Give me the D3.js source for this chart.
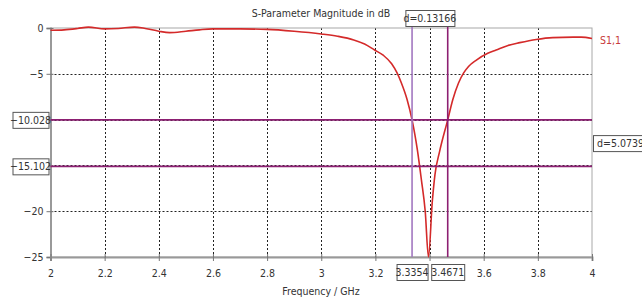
<!DOCTYPE html>
<html>
<head>
<meta charset="utf-8">
<script src="https://cdn.jsdelivr.net/npm/d3@7"></script>
<style>
  body { margin: 0; background: #fff; }
  svg text { font-family: "DejaVu Sans Condensed", "DejaVu Sans", sans-serif; font-stretch: condensed; font-size: 10.5px; fill: #333; }
</style>
</head>
<body>
<svg id="chart"></svg>
<script>
// S1,1 magnitude
const freqGHz = [2.00, 2.05, 2.10, 2.14, 2.20, 2.25, 2.31, 2.35, 2.40, 2.44, 2.50, 2.55, 2.60, 2.70, 2.80, 2.90,
  3.00, 3.06, 3.12, 3.16, 3.197, 3.23, 3.26, 3.28, 3.296, 3.317, 3.3354, 3.345, 3.355, 3.37, 3.384, 3.396,
  3.41, 3.42, 3.437, 3.4671, 3.486, 3.507, 3.526, 3.544, 3.573, 3.615, 3.646, 3.69, 3.733, 3.794, 3.855, 3.93, 3.96, 4.00];
const s11dB = [-0.25, -0.2, -0.05, 0.1, -0.1, -0.05, 0.1, -0.05, -0.35, -0.5, -0.35, -0.2, -0.1, -0.1, -0.15, -0.35,
  -0.65, -0.9, -1.3, -1.75, -2.4, -3.0, -3.9, -4.9, -6.0, -7.8, -10.028, -11.5, -13.3, -16.6, -20, -25,
  -19, -16, -13.5, -10.028, -7.8, -6.0, -4.9, -4.2, -3.5, -2.76, -2.4, -1.9, -1.6, -1.25, -1.05, -1.0, -1.0, -1.15];

const xTicks = [2, 2.2, 2.4, 2.6, 2.8, 3, 3.2, 3.4, 3.6, 3.8, 4];
const yTicks = [0, -5, -10, -15, -20, -25];
const markerFreqs = [3.3354, 3.4671];
const markerLevels = [-10.028, -15.102];
const deltaFreqLabel = "d=0.13166";
const deltaLevelLabel = "d=5.0739";

const width = 642, height = 300;
const plotLeft = 50.5, plotRight = 592, plotTop = 28, plotBottom = 257;

const svg = d3.select("#chart").attr("width", width).attr("height", height);

const x = d3.scaleLinear().domain([2, 4]).range([plotLeft, plotRight]);
const y = d3.scaleLinear().domain([-25, 0]).range([plotBottom, plotTop]);

// tick labels that sit under a marker box are not shown in the reference
const hiddenX = [3.4], hiddenY = [-10, -15];

// title
svg.append("text")
  .attr("x", 321).attr("y", 13)
  .attr("text-anchor", "middle")
  .attr("dominant-baseline", "central")
  .text("S-Parameter Magnitude in dB");

// grid (dotted)
const grid = svg.append("g").attr("stroke", "#222").attr("stroke-width", 1).attr("stroke-dasharray", "2,2");
grid.selectAll("line.v")
  .data(xTicks.slice(1, -1))
  .enter().append("line")
    .attr("x1", d => Math.round(x(d)) + 0.5).attr("x2", d => Math.round(x(d)) + 0.5)
    .attr("y1", plotTop).attr("y2", plotBottom);
grid.selectAll("line.h")
  .data(yTicks.slice(1, -1))
  .enter().append("line")
    .attr("x1", plotLeft).attr("x2", plotRight)
    .attr("y1", d => Math.round(y(d)) + 0.5).attr("y2", d => Math.round(y(d)) + 0.5);

// frame
svg.append("rect")
  .attr("x", plotLeft).attr("y", plotTop)
  .attr("width", plotRight - plotLeft).attr("height", plotBottom - plotTop)
  .attr("fill", "none").attr("stroke", "#a8a8a8").attr("stroke-width", 1);

// axes
const yAxis = svg.append("g")
  .attr("transform", "translate(" + plotLeft + ",0)")
  .call(d3.axisLeft(y).tickValues(yTicks).tickSize(4).tickPadding(3)
    .tickFormat(d => hiddenY.includes(d) ? "" : d3.format("d")(d)));
const xAxis = svg.append("g")
  .attr("transform", "translate(0," + plotBottom + ")")
  .call(d3.axisBottom(x).tickValues(xTicks).tickSize(4).tickPadding(9)
    .tickFormat(d => hiddenX.includes(d) ? "" : d3.format("")(d)));
[xAxis, yAxis].forEach(a => {
  a.select(".domain").attr("stroke", "#999").attr("stroke-width", 2);
  a.selectAll(".tick line").attr("stroke", "#777");
  a.selectAll("text").attr("font-size", null).attr("fill", null).attr("font-family", null);
});
xAxis.selectAll(".tick line").attr("y1", -3);
yAxis.selectAll(".tick line").attr("x2", 3).attr("x1", -4);

svg.append("text")
  .attr("x", 321).attr("y", 291)
  .attr("text-anchor", "middle")
  .attr("dominant-baseline", "central")
  .text("Frequency / GHz");

// curve
const pts = freqGHz.map((f, i) => [f, s11dB[i]]);
svg.append("path")
  .datum(pts)
  .attr("fill", "none")
  .attr("stroke", "#d42a2a")
  .attr("stroke-width", 1.6)
  .attr("d", d3.line().x(d => x(d[0])).y(d => y(Math.min(0.15, d[1]))).curve(d3.curveMonotoneX));

svg.append("text")
  .attr("x", 600).attr("y", 40)
  .attr("dominant-baseline", "central")
  .style("fill", "#c83a3a")
  .text("S1,1");

// markers
svg.selectAll("line.hm")
  .data(markerLevels)
  .enter().append("line")
    .attr("x1", plotLeft).attr("x2", plotRight)
    .attr("y1", d => y(d)).attr("y2", d => y(d))
    .attr("stroke", "#8c1f72").attr("stroke-width", 1.8);

svg.selectAll("line.vm")
  .data(markerFreqs)
  .enter().append("line")
    .attr("x1", d => x(d)).attr("x2", d => x(d))
    .attr("y1", 18).attr("y2", plotBottom)
    .attr("stroke", (d, i) => i === 0 ? "#a277c0" : "#8c1f72")
    .attr("stroke-width", 1.6);

function labelBox(cx, cy, w, txt, anchor) {
  const g = svg.append("g");
  const x0 = anchor === "start" ? cx : cx - w / 2;
  g.append("rect")
    .attr("x", x0 + 0.5).attr("y", cy - 8 + 0.5)
    .attr("width", w).attr("height", 16)
    .attr("fill", "#fff").attr("stroke", "#555").attr("stroke-width", 1);
  g.append("text")
    .attr("x", x0 + (anchor === "start" ? 4 : w / 2)).attr("y", cy)
    .attr("text-anchor", anchor === "start" ? "start" : "middle")
    .attr("dominant-baseline", "central")
    .text(txt);
}

markerLevels.forEach(v => labelBox(30.5, y(v), 36, d3.format(".3f")(v)));
markerFreqs.forEach((f, i) => labelBox(x(f), 272, i === 0 ? 31 : 33, d3.format(".4f")(f)));
labelBox((x(markerFreqs[0]) + x(markerFreqs[1])) / 2, 18, 49, deltaFreqLabel);
labelBox(593, (y(markerLevels[0]) + y(markerLevels[1])) / 2, 60, deltaLevelLabel, "start");
</script>
</body>
</html>
